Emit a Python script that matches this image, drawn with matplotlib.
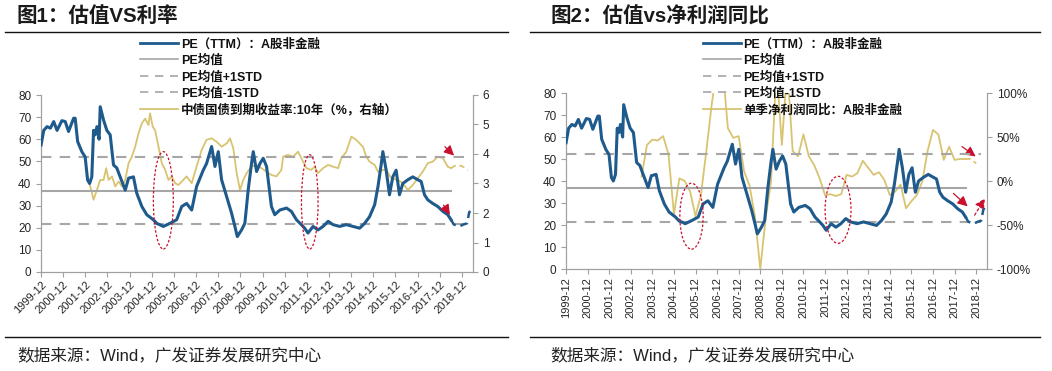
import matplotlib
matplotlib.use("Agg")
import matplotlib.pyplot as plt
from matplotlib.patches import Ellipse
from matplotlib.lines import Line2D

plt.rcParams['font.family'] = ['Liberation Sans', 'Noto Sans CJK SC', 'DejaVu Sans']

# ---------------- data ----------------
tick_years = list(range(1999, 2019))
tick_labels = [f"{y}-12" for y in tick_years]

# PE (TTM) of A-share non-financial, decimal-year positions
pe_x = [1999.92, 2000.04, 2000.19, 2000.34, 2000.49, 2000.64, 2000.86, 2001.01, 2001.16, 2001.39,
        2001.46, 2001.57, 2001.76, 2001.91, 2002.02, 2002.11, 2002.21, 2002.29, 2002.36, 2002.44,
        2002.54, 2002.59, 2002.74, 2002.89, 2003.04, 2003.19, 2003.34, 2003.49, 2003.72, 2003.87,
        2004.09, 2004.24, 2004.47, 2004.69, 2004.99, 2005.14, 2005.44, 2005.74, 2006.04, 2006.27,
        2006.49, 2006.72, 2006.94, 2007.24, 2007.39, 2007.62, 2007.77, 2007.92, 2008.07, 2008.30,
        2008.52, 2008.67, 2008.78, 2008.97, 2009.12, 2009.27, 2009.42, 2009.50, 2009.65, 2009.80,
        2009.95, 2010.10, 2010.32, 2010.47, 2010.70, 2011.00, 2011.22, 2011.45, 2011.67, 2011.82,
        2011.97, 2012.20, 2012.42, 2012.65, 2012.88, 2013.10, 2013.40, 2013.70, 2014.00, 2014.30,
        2014.53, 2014.75, 2014.98, 2015.13, 2015.28, 2015.35, 2015.50, 2015.65, 2015.80, 2015.95,
        2016.10, 2016.25, 2016.48, 2016.70, 2016.93, 2017.08, 2017.23, 2017.38, 2017.60, 2017.83,
        2018.06, 2018.28, 2018.43]
pe_y = [57.4, 64.0, 65.7, 65.0, 68.0, 64.0, 68.4, 68.0, 63.5, 69.5,
        69.5, 59.0, 54.4, 52.0, 41.6, 40.0, 43.0, 64.0, 62.0, 65.7,
        60.0, 74.7, 68.7, 64.0, 62.0, 48.4, 47.0, 43.0, 37.0, 42.4,
        43.0, 35.6, 29.6, 25.9, 23.6, 22.0, 20.6, 22.0, 23.6, 29.6,
        31.0, 28.0, 38.6, 46.0, 49.0, 56.7, 47.7, 54.4, 41.7, 34.0,
        26.6, 20.6, 16.0, 19.0, 22.0, 37.0, 49.0, 54.4, 45.4, 49.0,
        51.4, 47.7, 29.6, 25.9, 28.0, 28.9, 27.4, 23.6, 21.4, 19.8,
        17.6, 20.6, 19.0, 20.6, 22.9, 21.4, 20.6, 21.4, 20.6, 19.8,
        22.0, 25.0, 30.4, 38.6, 49.0, 54.4, 46.0, 34.9, 43.0, 46.0,
        34.9, 40.0, 41.7, 43.0, 41.7, 40.9, 34.9, 32.6, 31.0, 29.6,
        27.4, 25.9, 23.6]
pe_proj_x = [2018.43, 2018.55, 2018.80, 2019.00, 2019.15, 2019.25, 2019.38]
pe_proj_y = [23.6, 21.5, 20.6, 21.5, 22.0, 27.0, 28.5]

pe_mean = 36.8
pe_plus = 52.2
pe_minus = 21.5
mean_end = 2018.43
std_end = 2019.15

# 10Y government bond yield (%)
bond_x = [2002.02, 2002.14, 2002.29, 2002.44, 2002.59, 2002.74, 2002.86, 2002.97, 2003.12, 2003.27,
          2003.42, 2003.57, 2003.72, 2003.87, 2004.02, 2004.17, 2004.32, 2004.47, 2004.62, 2004.77,
          2004.84, 2004.96, 2005.07, 2005.22, 2005.37, 2005.52, 2005.67, 2005.82, 2005.97, 2006.12,
          2006.34, 2006.49, 2006.72, 2006.94, 2007.17, 2007.39, 2007.62, 2007.84, 2008.07, 2008.30,
          2008.45, 2008.60, 2008.75, 2008.90, 2009.05, 2009.20, 2009.42, 2009.65, 2009.87, 2010.10,
          2010.32, 2010.55, 2010.77, 2010.85, 2011.07, 2011.30, 2011.52, 2011.67, 2011.90, 2012.12,
          2012.27, 2012.42, 2012.65, 2012.88, 2013.10, 2013.33, 2013.48, 2013.70, 2013.93, 2014.15,
          2014.30, 2014.45, 2014.60, 2014.75, 2014.98, 2015.13, 2015.35, 2015.50, 2015.73, 2016.03,
          2016.25, 2016.48, 2016.70, 2016.93, 2017.15, 2017.38, 2017.60, 2017.83, 2018.06, 2018.28,
          2018.43]
bond_y = [3.24, 2.90, 2.45, 2.78, 3.12, 3.12, 3.52, 3.12, 3.24, 2.90,
          3.07, 2.90, 3.12, 3.69, 3.91, 4.25, 4.70, 5.04, 5.20, 4.98,
          5.38, 4.93, 4.80, 4.25, 3.69, 3.46, 3.12, 3.24, 3.01, 2.95,
          3.12, 3.24, 3.01, 3.57, 4.14, 4.48, 4.53, 4.42, 4.25, 4.36,
          4.53, 4.19, 3.35, 2.78, 3.12, 3.35, 3.57, 3.63, 3.52, 3.40,
          3.29, 3.24, 3.46, 3.91, 3.97, 3.91, 4.08, 3.86, 3.52, 3.46,
          3.57, 3.35, 3.52, 3.63, 3.57, 3.52, 3.86, 4.08, 4.59, 4.48,
          4.36, 4.25, 3.91, 3.74, 3.63, 3.40, 3.46, 3.46, 3.18, 3.12,
          3.01, 2.78, 2.95, 3.18, 3.40, 3.69, 3.74, 3.91, 3.86, 3.57,
          3.52]
bond_proj_x = [2018.43, 2018.60, 2018.90, 2019.18]
bond_proj_y = [3.52, 3.60, 3.60, 3.46]

# single-quarter net profit YoY (%), quarter ends
profit_x = [2003.417 + 0.25 * i for i in range(61)]
profit_y = [5, 41, 47, 46, 51, 30, -38, 3, 0, -12,
            -40, -16, 34, 87, 130, 130, 60, 49, 51, 11,
            -5, -40, -100, -42, 0, 130, 41, 130, 34, 28,
            53, 28, 18, 3, -16, -15, -17, -15, 7, 5,
            9, 23, 15, 7, 10, 1, -16, -12, -4, -31,
            -23, -16, -1, 34, 58, 53, 24, 39, 24, 25,
            25]
profit_proj_x = [2018.417, 2018.667, 2018.917]
profit_proj_y = [25, 25, 20]

# ---------------- styles ----------------
BLUE = '#1f5a8c'
YELLOW = '#d8c470'
GRAY = '#a6a6a6'
RED = '#c8102e'
SPINE = '#a0a0a0'
TXT = '#262626'
XMIN, XMAX = 1999.917, 2019.42

fig = plt.figure(figsize=(10.52, 3.71), dpi=100)


def px(x):
    return x / 1052.0


def py(y):
    return 1 - y / 371.0


def style_axes(ax, ax2, rot):
    ax.set_xlim(XMIN, XMAX)
    ax.set_ylim(0, 80)
    ax.set_yticks(range(0, 81, 10))
    ticks = [y + 11 / 12 for y in tick_years]
    ax.set_xticks(ticks)
    if rot == 45:
        ax.set_xticklabels(tick_labels, rotation=45, ha='right', rotation_mode='anchor')
    else:
        ax.set_xticklabels(tick_labels, rotation=90, ha='center')
    for a in (ax, ax2):
        for s in a.spines.values():
            s.set_color(SPINE)
            s.set_linewidth(0.8)
        a.spines['top'].set_visible(False)
        a.tick_params(colors=SPINE, labelcolor=TXT, labelsize=8.5, length=3.5, width=0.8)
    ax.tick_params(axis='x', labelsize=8, pad=2)


def hlines(ax):
    ax.plot([XMIN, mean_end], [pe_mean, pe_mean], color=GRAY, lw=1.5, zorder=2)
    ax.plot([XMIN, std_end], [pe_plus, pe_plus], color=GRAY, lw=1.5, ls=(0, (5, 4)), zorder=2)
    ax.plot([XMIN, std_end], [pe_minus, pe_minus], color=GRAY, lw=1.5, ls=(0, (5, 4)), zorder=2)


def pe_line(ax):
    ax.plot(pe_x, pe_y, color=BLUE, lw=2.2, zorder=5, solid_joinstyle='round')
    ax.plot(pe_proj_x, pe_proj_y, color=BLUE, lw=1.8, ls=(0, (3, 2)), zorder=5)


def arrow(ax, p0, p1, dashed=False):
    ax.annotate('', xy=p1, xytext=p0,
                arrowprops=dict(arrowstyle='-|>,head_length=0.6,head_width=0.3',
                                color=RED, lw=0.9,
                                ls=(0, (2, 2)) if dashed else '-'), zorder=8)


def ellipse(ax, cx, cy, w, h):
    ax.add_patch(Ellipse((cx, cy), w, h, fill=False, ec=RED, lw=0.9,
                         ls=(0, (2, 1.5)), zorder=7))


# ---------------- left chart ----------------
ax1 = fig.add_axes([px(41), py(272), px(473 - 41), (272 - 95) / 371.0])
ax1r = ax1.twinx()
ax1r.set_ylim(0, 6)
ax1r.set_yticks(range(0, 7))
style_axes(ax1, ax1r, 45)
ax1r.plot(bond_x, bond_y, color=YELLOW, lw=1.3, zorder=3)
ax1r.plot(bond_proj_x, bond_proj_y, color=YELLOW, lw=1.3, ls=(0, (3, 2)), zorder=3)
ax1.set_zorder(ax1r.get_zorder() + 1)
ax1.patch.set_visible(False)
hlines(ax1)
pe_line(ax1)
ellipse(ax1, 2005.44, 32.4, 0.9, 44)
ellipse(ax1, 2012.05, 31.7, 0.75, 42.6)
arrow(ax1r, (2018.06, 4.31), (2018.66, 3.88))
arrow(ax1, (2018.02, 31.3), (2018.45, 24.8))
arrow(ax1, (2018.75, 20.8), (2019.45, 31.6), dashed=True)

# ---------------- right chart ----------------
ax2 = fig.add_axes([px(566), py(269), px(987 - 566), (269 - 93) / 371.0])
ax2r = ax2.twinx()
ax2r.set_ylim(-100, 100)
ax2r.set_yticks([-100, -50, 0, 50, 100])
ax2r.set_yticklabels(['-100%', '-50%', '0%', '50%', '100%'])
style_axes(ax2, ax2r, 90)
ax2r.plot(profit_x, profit_y, color=YELLOW, lw=1.3, zorder=3)
ax2r.plot(profit_proj_x, profit_proj_y, color=YELLOW, lw=1.3, ls=(0, (3, 2)), zorder=3)
ax2.set_zorder(ax2r.get_zorder() + 1)
ax2.patch.set_visible(False)
hlines(ax2)
pe_line(ax2)
ellipse(ax2, 2005.73, 24.0, 1.08, 30)
ellipse(ax2, 2012.52, 26.9, 1.2, 30.5)
arrow(ax2r, (2018.16, 41), (2019.0, 26))
arrow(ax2, (2017.77, 35.2), (2018.62, 27.6))
arrow(ax2, (2018.78, 23.4), (2019.39, 33.2), dashed=True)

# ---------------- legends ----------------
common = [
    Line2D([], [], color=BLUE, lw=2.0),
    Line2D([], [], color=GRAY, lw=1.2),
    Line2D([], [], color=GRAY, lw=1.2, ls=(0, (5, 4))),
    Line2D([], [], color=GRAY, lw=1.2, ls=(0, (5, 4))),
    Line2D([], [], color=YELLOW, lw=1.3),
]
labels1 = ['PE（TTM）：A股非金融', 'PE均值', 'PE均值+1STD', 'PE均值-1STD',
           '中债国债到期收益率:10年（%，右轴）']
labels2 = ['PE（TTM）：A股非金融', 'PE均值', 'PE均值+1STD', 'PE均值-1STD',
           '单季净利润同比：A股非金融']
for x0, labs in ((140, labels1), (703, labels2)):
    leg = fig.legend(common, labs, loc='upper left', bbox_to_anchor=(px(x0), py(38)),
                     frameon=False, handlelength=3.0, handletextpad=0.25,
                     labelspacing=0.33, borderpad=0, borderaxespad=0,
                     prop={'weight': 'bold', 'size': 9})
    for t in leg.get_texts():
        t.set_color('#111111')

# ---------------- titles, rules, sources ----------------
for x0, x1, tx, title in ((5, 508, 17, '图1：估值VS利率'), (530, 1040, 550, '图2：估值vs净利润同比')):
    fig.text(px(tx), py(16), title, fontsize=14.8, fontweight='bold',
             color='#1a1a1a', va='center', ha='left')
    fig.add_artist(Line2D([px(x0), px(x1)], [py(31.5), py(31.5)], color='#111111', lw=1.0))
    fig.add_artist(Line2D([px(x0), px(x1)], [py(336.5), py(336.5)], color='#111111', lw=1.0))
    fig.text(px(tx), py(355), '数据来源：Wind，广发证券发展研究中心', fontsize=12,
             color='#222222', va='center', ha='left')

fig.savefig('out.png', dpi=100, facecolor='white')
